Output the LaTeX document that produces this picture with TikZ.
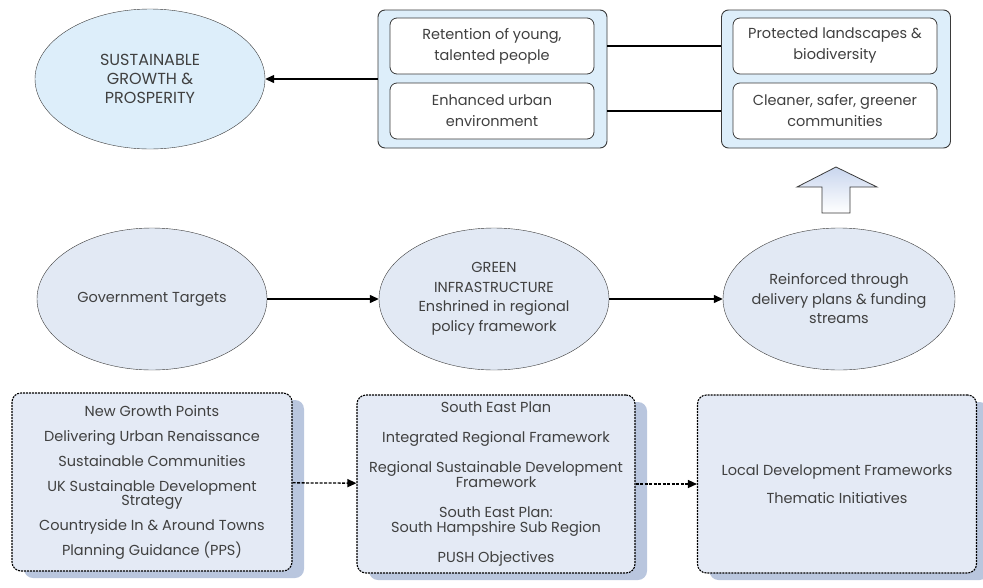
\documentclass[tikz,border=0pt]{standalone}
\usepackage{fontspec}
\setmainfont{Poppins}
\usetikzlibrary{shapes.geometric,arrows.meta,shadows}
\definecolor{linegray}{HTML}{3A3A3A}
\definecolor{textgray}{HTML}{404040}
\definecolor{skyfill}{HTML}{DDEEFA}
\definecolor{stagefill}{HTML}{E2E9F4}
\definecolor{boxfill}{HTML}{E4EAF5}
\definecolor{shadowblue}{HTML}{B9C6DE}
\definecolor{liftblue}{HTML}{C9D6EE}
\newcommand{\policyfont}[1]{\fontsize{14.5}{#1}\selectfont\setlength{\lineskiplimit}{-20pt}}
\tikzset{
    goal-ellipse/.style = {draw=linegray, fill=skyfill, ellipse, inner sep=0pt, minimum width=230, minimum height=140, align=center, text=textgray, font=\fontsize{16}{19}\selectfont},
    stage-ellipse/.style = {goal-ellipse, fill=stagefill, minimum height=142, font=\fontsize{14.5}{19.5}\selectfont},
    benefit-frame/.style = {draw=linegray, fill=skyfill, rounded corners=7pt, line width=0.9pt, minimum width=229, minimum height=138},
    benefit-box/.style = {draw=linegray, fill=white, rounded corners=7pt, line width=0.8pt, minimum width=204, minimum height=56, align=center, text=textgray, font=\fontsize{14.5}{21}\selectfont},
    policy-box/.style = {draw=black, fill=boxfill, rounded corners=9pt, line width=1.1pt, dash pattern=on 2pt off 1pt, minimum width=280, minimum height=178, align=center, text=textgray, font=\policyfont{14}, drop shadow={shadow xshift=12pt, shadow yshift=-7pt, fill=shadowblue, opacity=1}},
    flow-arrow/.style = {draw=black, line width=1.3pt, -{Triangle[length=9pt,width=8pt]}},
    link-arrow/.style = {flow-arrow, dash pattern=on 3pt off 1.5pt},
}

\begin{document}
\begin{tikzpicture}[x=1pt, y=-1pt]
\useasboundingbox (0,0) rectangle (983,587);

% top row
\node [goal-ellipse] (prosperity) at (150,79) {SUSTAINABLE\\GROWTH \&\\PROSPERITY};
\node [benefit-frame] (social) at (492.5,79) {};
\node [benefit-box] (retention) at (492,46) {Retention of young,\\talented people};
\node [benefit-box] (urban) at (492,111) {Enhanced urban\\environment};
\node [benefit-frame] (environ) at (836,79) {};
\node [benefit-box] (landscape) at (835,46) {Protected landscapes \&\\biodiversity};
\node [benefit-box] (communities) at (835,111) {Cleaner, safer, greener\\communities};

\draw [flow-arrow] (social.west) -- (prosperity.east);
\draw [line width=1.1pt] (retention -| social.east) -- (retention -| environ.west);
\draw [line width=1.1pt] (urban -| social.east) -- (urban -| environ.west);

% middle row
\node [stage-ellipse] (targets) at (152,299) {Government Targets};
\node [stage-ellipse, inner sep=-6pt] (green) at (494,299) {GREEN\\INFRASTRUCTURE\\Enshrined in regional\\policy framework};
\node [stage-ellipse, minimum width=232, inner sep=-14pt] (delivery) at (839,299) {Reinforced through\\delivery plans \& funding\\streams};

\draw [flow-arrow] (targets) -- (green);
\draw [flow-arrow] (green) -- (delivery);

% lift arrow
\coordinate (lift) at (836,213);
\draw [draw=linegray, top color=liftblue, bottom color=white, line width=0.8pt]
    (lift) ++(-14,0) -- ++(0,-26) -- ++(-25,0) -- ++(39,-20) -- ++(41,20) -- ++(-27,0) -- ++(0,26) -- cycle;

% bottom row
\node [policy-box] (national) at (152,482) {New Growth Points\\[11pt]
    Delivering Urban Renaissance\\[11pt]
    Sustainable Communities\\[11pt]
    UK Sustainable Development\\Strategy\\[11pt]
    Countryside In \& Around Towns\\[11pt]
    Planning Guidance (PPS)};
\node [policy-box, minimum width=278, font=\policyfont{15}] (regional) at (496,484) {South East Plan\\[15pt]
    Integrated Regional Framework\\[15pt]
    Regional Sustainable Development\\Framework\\[15pt]
    South East Plan:\\South Hampshire Sub Region\\[15pt]
    PUSH Objectives};
\node [policy-box, minimum width=279] (local) at (837,484) {Local Development Frameworks\\[14pt]
    Thematic Initiatives};

\draw [link-arrow] (national) -- (regional);
\draw [link-arrow] (regional) -- (local);
\end{tikzpicture}
\end{document}
